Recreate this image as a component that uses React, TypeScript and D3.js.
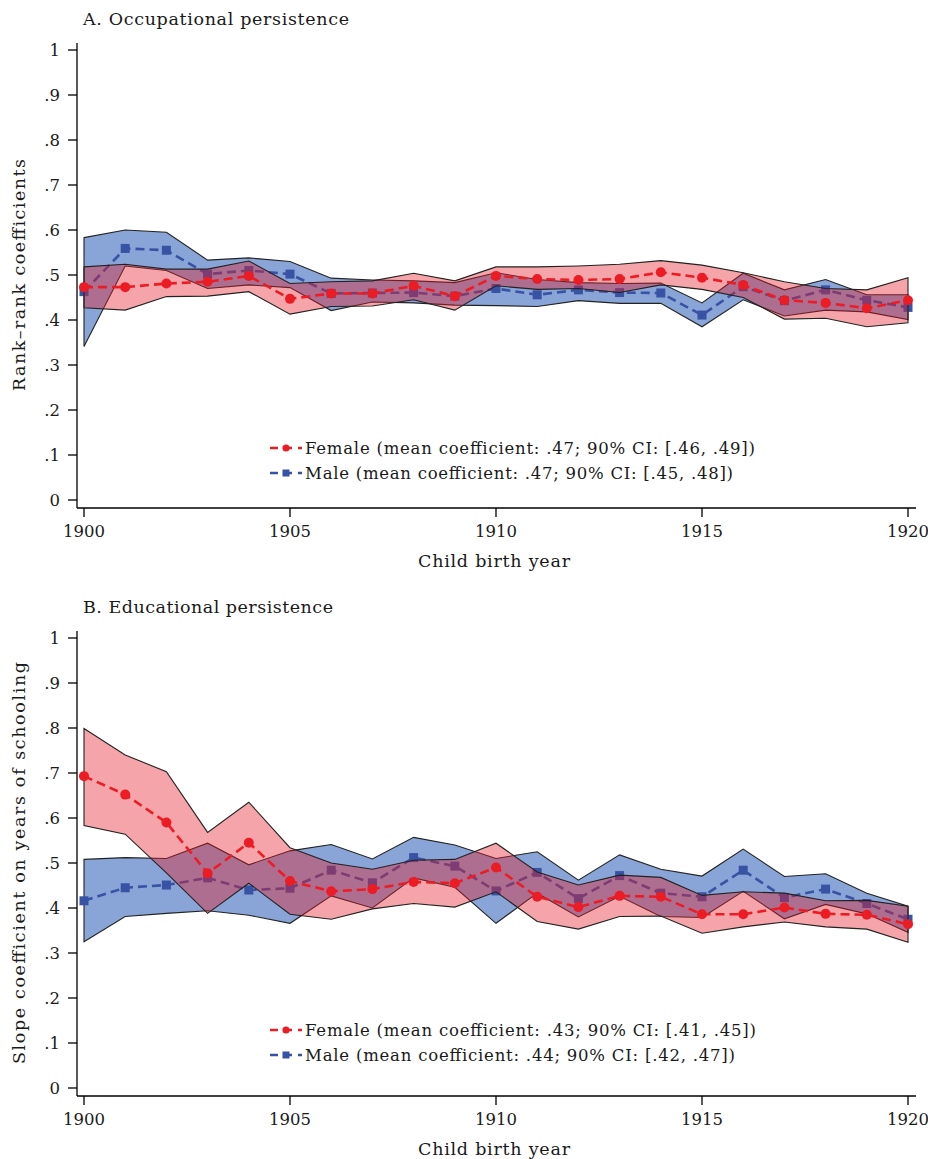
import * as d3 from 'd3';
import { useEffect, useRef } from 'react';

// child birth years (x categories)
const years = [1900, 1901, 1902, 1903, 1904, 1905, 1906, 1907, 1908, 1909, 1910, 1911, 1912, 1913, 1914, 1915, 1916, 1917, 1918, 1919, 1920];

// A. Occupational persistence
const occFemale = [0.473, 0.473, 0.481, 0.485, 0.498, 0.447, 0.459, 0.459, 0.476, 0.453, 0.498, 0.491, 0.489, 0.491, 0.506, 0.494, 0.478, 0.444, 0.438, 0.426, 0.444];
const occFemaleLo = [0.427, 0.422, 0.452, 0.453, 0.463, 0.413, 0.43, 0.431, 0.445, 0.422, 0.476, 0.468, 0.47, 0.461, 0.478, 0.468, 0.45, 0.402, 0.404, 0.385, 0.394];
const occFemaleHi = [0.518, 0.524, 0.513, 0.513, 0.531, 0.481, 0.485, 0.487, 0.504, 0.487, 0.518, 0.518, 0.52, 0.524, 0.532, 0.522, 0.505, 0.485, 0.47, 0.467, 0.494];
const occMale = [0.463, 0.559, 0.555, 0.502, 0.51, 0.502, 0.459, 0.46, 0.461, 0.453, 0.47, 0.456, 0.467, 0.461, 0.46, 0.411, 0.474, 0.443, 0.467, 0.444, 0.428];
const occMaleLo = [0.341, 0.52, 0.51, 0.47, 0.478, 0.472, 0.421, 0.44, 0.438, 0.433, 0.432, 0.43, 0.443, 0.437, 0.437, 0.385, 0.445, 0.409, 0.422, 0.418, 0.401];
const occMaleHi = [0.583, 0.6, 0.595, 0.533, 0.538, 0.53, 0.493, 0.489, 0.487, 0.483, 0.505, 0.49, 0.483, 0.481, 0.482, 0.438, 0.504, 0.467, 0.49, 0.456, 0.456];

// B. Educational persistence
const eduFemale = [0.693, 0.652, 0.59, 0.477, 0.545, 0.46, 0.437, 0.442, 0.458, 0.455, 0.49, 0.425, 0.402, 0.427, 0.425, 0.386, 0.386, 0.401, 0.387, 0.385, 0.364];
const eduFemaleLo = [0.583, 0.564, 0.478, 0.388, 0.455, 0.386, 0.375, 0.398, 0.41, 0.402, 0.436, 0.37, 0.353, 0.381, 0.382, 0.344, 0.358, 0.369, 0.358, 0.353, 0.324];
const eduFemaleHi = [0.799, 0.74, 0.703, 0.568, 0.635, 0.534, 0.5, 0.486, 0.506, 0.508, 0.544, 0.48, 0.451, 0.473, 0.468, 0.428, 0.436, 0.433, 0.416, 0.417, 0.404];
const eduMale = [0.416, 0.445, 0.451, 0.467, 0.44, 0.444, 0.484, 0.456, 0.512, 0.493, 0.438, 0.479, 0.421, 0.472, 0.433, 0.425, 0.484, 0.423, 0.442, 0.41, 0.375];
const eduMaleLo = [0.325, 0.381, 0.388, 0.394, 0.384, 0.366, 0.427, 0.4, 0.467, 0.446, 0.366, 0.433, 0.38, 0.426, 0.381, 0.379, 0.437, 0.376, 0.408, 0.387, 0.346];
const eduMaleHi = [0.508, 0.512, 0.51, 0.544, 0.496, 0.527, 0.541, 0.509, 0.557, 0.54, 0.51, 0.525, 0.462, 0.518, 0.486, 0.471, 0.531, 0.47, 0.476, 0.433, 0.404];

const xTicks = [1900, 1905, 1910, 1915, 1920];
const yTicks = [0, 0.1, 0.2, 0.3, 0.4, 0.5, 0.6, 0.7, 0.8, 0.9, 1];

const panels = [
  {
    top: 0,
    title: 'A. Occupational persistence',
    titleLen: 266,
    yLabel: 'Rank–rank coefficients',
    yLabelLen: 232,
    female: occFemale, femaleLo: occFemaleLo, femaleHi: occFemaleHi,
    male: occMale, maleLo: occMaleLo, maleHi: occMaleHi,
    legend: ['Female (mean coefficient: .47; 90% CI: [.46, .49])', 'Male (mean coefficient: .47; 90% CI: [.45, .48])'],
    legendLen: [450, 428],
    legendY: [448, 473]
  },
  {
    top: 588,
    title: 'B. Educational persistence',
    titleLen: 250,
    yLabel: 'Slope coefficient on years of schooling',
    yLabelLen: 402,
    female: eduFemale, femaleLo: eduFemaleLo, femaleHi: eduFemaleHi,
    male: eduMale, maleLo: eduMaleLo, maleHi: eduMaleHi,
    legend: ['Female (mean coefficient: .43; 90% CI: [.41, .45])', 'Male (mean coefficient: .44; 90% CI: [.42, .47])'],
    legendLen: [451, 430],
    legendY: [442, 467]
  }
];

const width = 928;
const height = 1159;
const font = '"DejaVu Serif", serif';
const ink = '#1a1a1a';
const red = '#ec1c24';
const redFill = 'rgba(230, 30, 40, 0.4)';
const blue = '#3953a4';
const blueFill = 'rgba(40, 90, 180, 0.55)';

export default function App() {
  const svgRef = useRef(null);

  useEffect(() => {
    const svg = d3.select(svgRef.current);
    svg.selectAll('*').remove();

    const x = d3.scaleLinear().domain([1900, 1920]).range([84, 908]);

    panels.forEach((p) => {
      const g = svg.append('g').attr('transform', `translate(0,${p.top})`);
      const y = d3.scaleLinear().domain([0, 1]).range([500, 50]);
      const axisY = 508;

      const band = (lo, hi) =>
        d3.area().x((d, i) => x(years[i])).y0((d, i) => y(lo[i])).y1((d, i) => y(hi[i]))(years);
      const line = (vals) => d3.line().x((d, i) => x(years[i])).y((d, i) => y(vals[i]))(years);

      // male band + line first, the female band goes over it
      g.append('path').attr('d', band(p.maleLo, p.maleHi)).attr('fill', blueFill)
        .attr('stroke', '#222').attr('stroke-width', 1.1);
      g.append('path').attr('d', line(p.male)).attr('fill', 'none').attr('stroke', blue)
        .attr('stroke-width', 2.6).attr('stroke-dasharray', '9,5');
      g.selectAll('.sq').data(years).join('rect').attr('class', 'sq')
        .attr('x', (d) => x(d) - 4.5).attr('y', (d, i) => y(p.male[i]) - 4.5)
        .attr('width', 9).attr('height', 9).attr('fill', blue);

      g.append('path').attr('d', band(p.femaleLo, p.femaleHi)).attr('fill', redFill)
        .attr('stroke', '#222').attr('stroke-width', 1.1);
      g.append('path').attr('d', line(p.female)).attr('fill', 'none').attr('stroke', red)
        .attr('stroke-width', 2.6).attr('stroke-dasharray', '9,5');
      g.selectAll('.dot').data(years).join('circle').attr('class', 'dot')
        .attr('cx', (d) => x(d)).attr('cy', (d, i) => y(p.female[i])).attr('r', 5).attr('fill', red);

      // axes
      g.append('line').attr('x1', 77).attr('x2', 77).attr('y1', 43).attr('y2', axisY)
        .attr('stroke', '#000').attr('stroke-width', 1.3);
      g.append('line').attr('x1', 77).attr('x2', 916).attr('y1', axisY).attr('y2', axisY)
        .attr('stroke', '#000').attr('stroke-width', 1.3);

      const fmt = (d) => (d === 0 ? '0' : d === 1 ? '1' : d3.format('.1f')(d).replace(/^0/, ''));
      yTicks.forEach((t) => {
        g.append('line').attr('x1', 68).attr('x2', 77).attr('y1', y(t)).attr('y2', y(t))
          .attr('stroke', '#000').attr('stroke-width', 1.3);
        g.append('text').attr('x', 60).attr('y', y(t)).attr('dy', '0.35em')
          .attr('text-anchor', 'end').attr('font-family', font).attr('font-size', 16.5)
          .attr('fill', ink).text(fmt(t));
      });
      xTicks.forEach((t) => {
        g.append('line').attr('x1', x(t)).attr('x2', x(t)).attr('y1', axisY).attr('y2', axisY + 9)
          .attr('stroke', '#000').attr('stroke-width', 1.3);
        g.append('text').attr('x', x(t)).attr('y', axisY + 29)
          .attr('text-anchor', 'middle').attr('font-family', font).attr('font-size', 16.5)
          .attr('textLength', 42).attr('fill', ink).text(t);
      });

      g.append('text').attr('x', 494).attr('y', axisY + 59).attr('text-anchor', 'middle')
        .attr('font-family', font).attr('font-size', 17.5).attr('textLength', 152)
        .attr('fill', ink).text('Child birth year');
      g.append('text').attr('x', 83).attr('y', 25).attr('font-family', font).attr('font-size', 17.5)
        .attr('textLength', p.titleLen).attr('fill', ink).text(p.title);
      g.append('text').attr('transform', `translate(25,${(y(0) + y(1)) / 2}) rotate(-90)`)
        .attr('text-anchor', 'middle').attr('font-family', font).attr('font-size', 17.5)
        .attr('textLength', p.yLabelLen).attr('fill', ink).text(p.yLabel);

      // legend
      [0, 1].forEach((k) => {
        const ly = p.legendY[k];
        const col = k === 0 ? red : blue;
        g.append('line').attr('x1', 270).attr('x2', 302).attr('y1', ly).attr('y2', ly)
          .attr('stroke', col).attr('stroke-width', 2.6).attr('stroke-dasharray', '8,6');
        if (k === 0) {
          g.append('circle').attr('cx', 286).attr('cy', ly).attr('r', 3.6).attr('fill', red);
        } else {
          g.append('rect').attr('x', 282.5).attr('y', ly - 3.5).attr('width', 7).attr('height', 7).attr('fill', blue);
        }
        g.append('text').attr('x', 305).attr('y', ly).attr('dy', '0.35em')
          .attr('font-family', font).attr('font-size', 16.5).attr('textLength', p.legendLen[k])
          .attr('fill', ink).text(p.legend[k]);
      });
    });
  });

  return (
    <div style={{ position: 'absolute', left: 0, top: 0, background: '#fff' }}>
      <svg ref={svgRef} width={width} height={height} viewBox={`0 0 ${width} ${height}`} style={{ display: 'block' }}></svg>
    </div>
  );
}
